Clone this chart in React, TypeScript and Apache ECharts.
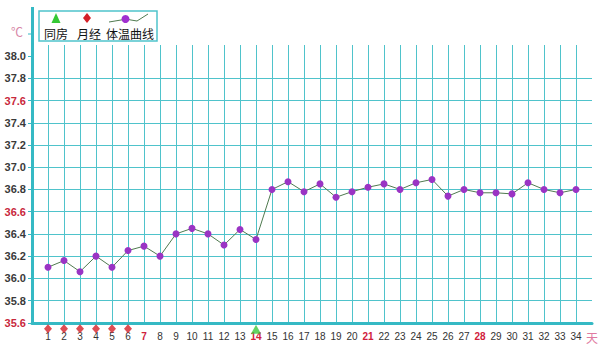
import React, { useEffect, useRef } from "react";
import * as echarts from "echarts";

const days = [
  1, 2, 3, 4, 5, 6, 7, 8, 9, 10, 11, 12, 13, 14, 15, 16, 17, 18, 19, 20, 21, 22,
  23, 24, 25, 26, 27, 28, 29, 30, 31, 32, 33, 34,
];
const temps = [
  36.1, 36.16, 36.06, 36.2, 36.1, 36.25, 36.29, 36.2, 36.4, 36.45, 36.4, 36.3,
  36.44, 36.35, 36.8, 36.87, 36.78, 36.85, 36.73, 36.78, 36.82, 36.85, 36.8,
  36.86, 36.89, 36.74, 36.8, 36.77, 36.77, 36.76, 36.86, 36.8, 36.77, 36.8,
];
const periodDays = [1, 2, 3, 4, 5, 6];
const intercourseDays = [14];
const redDays = [7, 14, 21, 28];
const redTemps = ["35.6", "36.6", "37.6"];
const yTickValues = [
  35.6, 35.8, 36.0, 36.2, 36.4, 36.6, 36.8, 37.0, 37.2, 37.4, 37.6, 37.8, 38.0,
];
const markerLevel = 35.546;
const legendNames = ["同房", "月经", "体温曲线"];

const TEAL = "#4fc3cb";
const AXIS = "#35b9c4";

export default function App() {
  const ref = useRef<HTMLDivElement>(null);
  useEffect(() => {
    const chart = echarts.init(ref.current!, undefined, { renderer: "svg" });
    chart.setOption({
      animation: false,
      backgroundColor: "#ffffff",
      grid: { left: 32, right: 14, top: 45, bottom: 30.2 },
      xAxis: {
        type: "value",
        min: 0,
        max: 35,
        interval: 1,
        axisLine: { show: true, lineStyle: { color: AXIS, width: 3 } },
        axisTick: { show: false },
        splitLine: {
          show: true,
          showMinLine: false,
          showMaxLine: false,
          lineStyle: { color: TEAL, width: 1 },
        },
        axisLabel: {
          margin: 9,
          showMinLabel: false,
          fontSize: 10,
          fontFamily: "Liberation Sans, Arial, sans-serif",
          color: "#333",
          formatter: (v: number) => {
            if (v === 35) return "{u|天}";
            if (redDays.indexOf(v) >= 0) return "{r|" + v + "}";
            return String(v);
          },
          rich: {
            r: {
              color: "#d0203c",
              fontSize: 10,
              fontWeight: "bold",
              fontFamily: "Liberation Sans, Arial, sans-serif",
            },
            u: {
              color: "#e07aa0",
              fontSize: 12,
              fontFamily: "Noto Sans CJK SC",
            },
          },
        },
      },
      yAxis: {
        type: "value",
        min: 35.6,
        max: 38.1,
        interval: 0.2,
        axisLine: { show: true, lineStyle: { color: AXIS, width: 3 } },
        axisTick: {
          show: true,
          length: 4,
          customValues: yTickValues,
          lineStyle: { color: AXIS, width: 1 },
        },
        splitLine: {
          show: true,
          showMinLine: false,
          showMaxLine: false,
          lineStyle: { color: TEAL, width: 1 },
        },
        axisLabel: {
          margin: 6,
          customValues: yTickValues,
          fontSize: 11,
          fontWeight: "bold",
          fontFamily: "Liberation Sans, Arial, sans-serif",
          color: "#3a3a3a",
          formatter: (v: number) => {
            const s = v.toFixed(1);
            return redTemps.indexOf(s) >= 0 ? "{r|" + s + "}" : s;
          },
          rich: {
            r: {
              color: "#c8283c",
              fontSize: 11,
              fontWeight: "bold",
              fontFamily: "Liberation Sans, Arial, sans-serif",
            },
          },
        },
      },
      series: [
        {
          name: legendNames[2],
          type: "line",
          data: days.map((d, i) => [d, temps[i]]),
          symbol: "circle",
          symbolSize: 7,
          lineStyle: { color: "#4f7a4f", width: 1 },
          itemStyle: { color: "#9a34c4" },
        },
        {
          name: legendNames[1],
          type: "scatter",
          clip: false,
          z: 10,
          symbol: "diamond",
          symbolSize: [8, 9],
          itemStyle: { color: "#d42028" },
          data: periodDays.map((d) => [d, markerLevel]),
        },
        {
          name: legendNames[0],
          type: "scatter",
          clip: false,
          z: 10,
          symbol: "triangle",
          symbolSize: [10, 9],
          itemStyle: { color: "#3cc83c" },
          data: intercourseDays.map((d) => [d, markerLevel - 0.004]),
        },
      ],
      graphic: [
        {
          type: "line",
          shape: { x1: 32.5, y1: 7, x2: 32.5, y2: 46 },
          style: { stroke: AXIS, lineWidth: 3 },
        },
        {
          type: "line",
          shape: { x1: 28, y1: 34, x2: 32, y2: 34 },
          style: { stroke: AXIS, lineWidth: 1 },
        },
        {
          type: "text",
          x: 17,
          y: 31,
          style: {
            text: "℃",
            fill: "#d888a8",
            fontSize: 12,
            fontFamily: "Noto Sans CJK SC",
            align: "center",
            verticalAlign: "middle",
          },
        },
        {
          type: "rect",
          shape: { x: 39, y: 11, width: 118, height: 30 },
          style: { fill: "#ffffff", stroke: TEAL, lineWidth: 1.5 },
        },
        {
          type: "polygon",
          shape: { points: [[56, 13], [51.5, 23], [60.5, 23]] },
          style: { fill: "#34c834" },
        },
        {
          type: "polygon",
          shape: { points: [[87, 13], [91, 18], [87, 23], [83, 18]] },
          style: { fill: "#d42028" },
        },
        {
          type: "polyline",
          shape: {
            points: [[109, 22], [121, 20], [126, 19], [131, 20], [137, 21], [148, 14]],
          },
          style: { stroke: "#4f7a4f", lineWidth: 1, fill: "none" },
        },
        {
          type: "circle",
          shape: { cx: 125.5, cy: 19, r: 4 },
          style: { fill: "#a030d0" },
        },
        {
          type: "text",
          x: 56,
          y: 33,
          style: {
            text: legendNames[0],
            fill: "#111",
            fontSize: 12,
            fontFamily: "Noto Sans CJK SC",
            align: "center",
            verticalAlign: "middle",
          },
        },
        {
          type: "text",
          x: 89,
          y: 33,
          style: {
            text: legendNames[1],
            fill: "#111",
            fontSize: 12,
            fontFamily: "Noto Sans CJK SC",
            align: "center",
            verticalAlign: "middle",
          },
        },
        {
          type: "text",
          x: 130,
          y: 33,
          style: {
            text: legendNames[2],
            fill: "#111",
            fontSize: 12,
            fontFamily: "Noto Sans CJK SC",
            align: "center",
            verticalAlign: "middle",
          },
        },
      ],
    });
    return () => chart.dispose();
  }, []);
  return (
    <div
      ref={ref}
      style={{ position: "fixed", left: 0, top: 0, width: 606, height: 353 }}
    />
  );
}
